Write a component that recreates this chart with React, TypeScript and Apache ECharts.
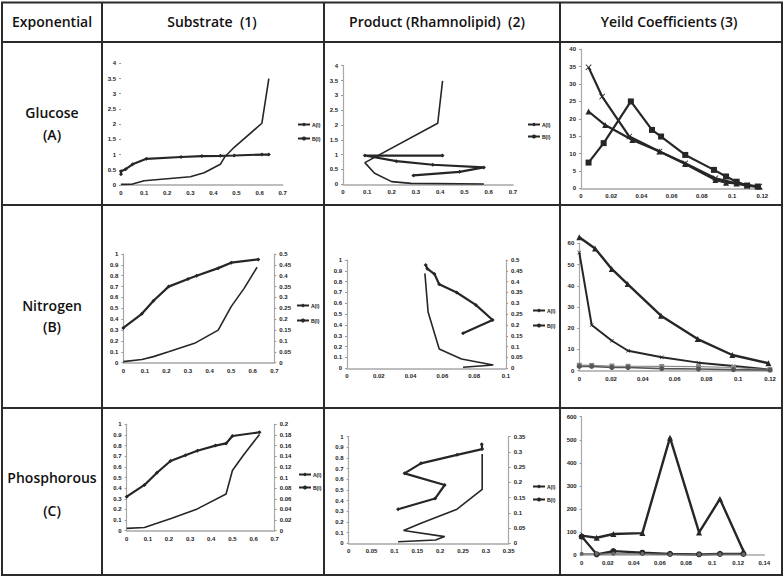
import React, { useEffect, useRef } from "react";
import * as echarts from "echarts";

// ---------- Data ----------
// Row A: Glucose
const glucoseSubstrateA = [[0, 0.35], [0, 0.45], [0.02, 0.52], [0.05, 0.68], [0.11, 0.86], [0.26, 0.92], [0.35, 0.95], [0.43, 0.96], [0.49, 0.97], [0.61, 1.0], [0.64, 1.0]];
const glucoseSubstrateB = [[0, 0.02], [0.05, 0.03], [0.1, 0.14], [0.3, 0.27], [0.36, 0.4], [0.43, 0.68], [0.45, 0.93], [0.49, 1.24], [0.61, 2.03], [0.64, 3.5]];
const glucoseProductA = [[0.41, 0.97], [0.09, 0.97], [0.22, 0.78], [0.37, 0.66], [0.58, 0.57], [0.48, 0.42], [0.29, 0.3]];
const glucoseProductB = [[0.41, 3.49], [0.39, 2.06], [0.09, 0.73], [0.13, 0.37], [0.2, 0.09], [0.28, 0.03], [0.58, 0.01]];
const glucoseYieldCross = [[0.005, 34.8], [0.014, 26.4], [0.032, 14.9], [0.052, 10.6], [0.069, 7.2], [0.089, 2.9], [0.103, 1.4], [0.11, 0.7], [0.118, 0.5]];
const glucoseYieldTri = [[0.005, 22.1], [0.016, 18.2], [0.034, 13.9], [0.052, 10.6], [0.069, 7.0], [0.089, 2.4], [0.096, 1.6], [0.103, 1.4], [0.118, 0.5]];
const glucoseYieldSq = [[0.005, 7.4], [0.015, 13], [0.033, 25], [0.047, 16.8], [0.053, 14.9], [0.069, 9.6], [0.088, 5.3], [0.096, 3.4], [0.103, 1.9], [0.11, 0.8], [0.117, 0.5]];

// Row B: Nitrogen
const nitrogenSubstrateA = [[0, 0.32], [0.086, 0.45], [0.14, 0.57], [0.21, 0.7], [0.3, 0.77], [0.34, 0.8], [0.44, 0.87], [0.5, 0.92], [0.626, 0.95]];
const nitrogenSubstrateB = [[0, 0.005], [0.086, 0.015], [0.14, 0.028], [0.21, 0.05], [0.33, 0.089], [0.44, 0.15], [0.5, 0.258], [0.56, 0.342], [0.62, 0.439]];
const nitrogenProductA = [[0.0495, 0.954], [0.0505, 0.92], [0.055, 0.87], [0.058, 0.775], [0.069, 0.7], [0.081, 0.585], [0.0916, 0.446], [0.073, 0.323]];
const nitrogenProductB = [[0.049, 0.438], [0.051, 0.26], [0.058, 0.089], [0.072, 0.043], [0.092, 0.015], [0.073, 0.005]];
const nitrogenYieldTri = [[0, 62.8], [0.0099, 57.6], [0.0204, 47.9], [0.0304, 40.8], [0.0514, 25.9], [0.0745, 14.9], [0.0963, 7.4], [0.119, 3.5]];
const nitrogenYieldCross = [[0, 55.7], [0.0078, 21.5], [0.0205, 14.1], [0.0307, 9.4], [0.0519, 6.3], [0.075, 3.8], [0.097, 2.2], [0.12, 0.5]];
const nitrogenYieldCircle = [[0, 2], [0.0078, 2], [0.0205, 1.5], [0.0307, 1.5], [0.0519, 1], [0.075, 0.8], [0.097, 0.5], [0.12, 0.3]];
const nitrogenYieldSq = [[0, 2.6], [0.0078, 2.5], [0.0205, 2.2], [0.0307, 2.1], [0.0519, 2.0], [0.075, 1.9], [0.097, 1.5], [0.12, 0.5]];

// Row C: Phosphorous
const phosSubstrateA = [[0, 0.32], [0.084, 0.43], [0.143, 0.545], [0.207, 0.655], [0.278, 0.71], [0.334, 0.752], [0.42, 0.8], [0.47, 0.82], [0.5, 0.89], [0.628, 0.925]];
const phosSubstrateB = [[0, 0.0044], [0.084, 0.006], [0.143, 0.0138], [0.21, 0.023], [0.334, 0.041], [0.47, 0.069], [0.5, 0.113], [0.55, 0.141], [0.628, 0.181]];
const phosProductA = [[0.108, 0.32], [0.189, 0.42], [0.21, 0.547], [0.122, 0.656], [0.158, 0.75], [0.237, 0.83], [0.292, 0.884], [0.291, 0.93]];
const phosProductB = [[0.292, 0.293], [0.292, 0.177], [0.237, 0.112], [0.158, 0.066], [0.12, 0.042], [0.21, 0.022], [0.19, 0.011], [0.108, 0.005]];
const phosYieldTri = [[0, 84], [0.0115, 75], [0.0243, 91], [0.0465, 95], [0.0677, 509], [0.09, 98], [0.106, 243], [0.124, 17]];
const phosYieldCircle = [[0, 80], [0.0115, 3], [0.0243, 17], [0.0465, 10], [0.0677, 5], [0.09, 3], [0.106, 5], [0.124, 5]];
const phosYieldLow = [[0, 5], [0.0115, 5], [0.0243, 5], [0.0465, 5], [0.0677, 3], [0.09, 2], [0.106, 3], [0.124, 3]];

// Texts
const headerLabels = ["Exponential", "Substrate  (1)", "Product (Rhamnolipid)  (2)", "Yeild Coefficients (3)"];
const rowLabels = [["Glucose", "(A)"], ["Nitrogen", "(B)"], ["Phosphorous", "(C)"]];
const legendNames = ["A(I)", "B(I)"];

// ---------- Styling helpers ----------
const DARK = "#262626";
const GRAYAXIS = "#a8a8a8";
const labelStyle = { fontSize: 6, fontWeight: "bold" as const, color: "#222", fontFamily: "Liberation Sans", margin: 5 };

function xAx(gridIndex: number, max: number, interval: number) {
  return {
    type: "value", gridIndex, min: 0, max, interval,
    axisLine: { show: true, lineStyle: { color: GRAYAXIS, width: 1.5 } },
    axisTick: { show: false },
    splitLine: { show: false },
    axisLabel: { ...labelStyle },
  };
}
function yAx(gridIndex: number, max: number, interval: number, position = "left", showLine = true) {
  return {
    type: "value", gridIndex, min: 0, max, interval, position,
    axisLine: { show: showLine, onZero: false, lineStyle: { color: GRAYAXIS, width: 1.2 } },
    axisTick: { show: true, length: 2, lineStyle: { color: "#999" } },
    splitLine: { show: false },
    axisLabel: { ...labelStyle },
  };
}
function ser(name: string, data: number[][], xi: number, yi: number, symbol: string, symbolSize: number, width: number, color = DARK) {
  return {
    type: "line", name, data, xAxisIndex: xi, yAxisIndex: yi,
    symbol, symbolSize, showSymbol: symbol !== "none", clip: false,
    lineStyle: { color, width },
    itemStyle: { color },
    emphasis: { disabled: true },
  };
}
function legendAt(left: number, top: number, gap: number) {
  return {
    data: legendNames, left, top, orient: "vertical", itemWidth: 12, itemHeight: 5, itemGap: gap,
    padding: 0, selectedMode: false,
    textStyle: { fontSize: 5, fontWeight: "bold", color: "#111", fontFamily: "Liberation Sans", padding: [0, 0, 0, -3] },
  };
}

const CROSS = "path://M0,1L1,0L5,4L9,0L10,1L6,5L10,9L9,10L5,6L1,10L0,9L4,5Z";

function buildOption() {
  const grid = [
    { left: 121, top: 63.3, width: 161.7, height: 121.7 },   // A1
    { left: 343, top: 65.7, width: 170, height: 118.6 },     // A2
    { left: 581, top: 49.3, width: 181.3, height: 139 },     // A3
    { left: 123.3, top: 254, width: 151, height: 108.7 },    // B1
    { left: 347, top: 260, width: 159, height: 108.3 },      // B2
    { left: 579.3, top: 243.3, width: 190.7, height: 127.4 },// B3
    { left: 126.7, top: 424.3, width: 148, height: 106.4 },  // C1
    { left: 348.7, top: 436.7, width: 160, height: 106.6 },  // C2
    { left: 581.7, top: 416.7, width: 182.6, height: 138.3 },// C3
  ];
  const xAxis = [
    xAx(0, 0.7, 0.1), xAx(1, 0.7, 0.1), xAx(2, 0.12, 0.02),
    xAx(3, 0.7, 0.1), xAx(4, 0.1, 0.02), xAx(5, 0.12, 0.02),
    xAx(6, 0.7, 0.1), xAx(7, 0.35, 0.05), xAx(8, 0.14, 0.02),
  ];
  const yAxis = [
    yAx(0, 4, 0.5, "left", false),   // 0 A1
    yAx(1, 4, 0.5),                  // 1 A2
    yAx(2, 40, 5),                   // 2 A3
    yAx(3, 1, 0.1),                  // 3 B1 left
    yAx(3, 0.5, 0.05, "right"),      // 4 B1 right
    yAx(4, 1, 0.1),                  // 5 B2 left
    yAx(4, 0.5, 0.05, "right"),      // 6 B2 right
    yAx(5, 60, 10),                  // 7 B3
    yAx(6, 1, 0.1),                  // 8 C1 left
    yAx(6, 0.2, 0.02, "right"),      // 9 C1 right
    yAx(7, 1, 0.1),                  // 10 C2 left
    yAx(7, 0.35, 0.05, "right"),     // 11 C2 right
    yAx(8, 600, 100),                // 12 C3
  ];
  const series = [
    ser("A(I)", glucoseSubstrateA, 0, 0, "diamond", 4, 2.2),
    ser("B(I)", glucoseSubstrateB, 0, 0, "none", 0, 1.6),
    ser("A(I)", glucoseProductA, 1, 1, "diamond", 4, 2.2),
    ser("B(I)", glucoseProductB, 1, 1, "none", 0, 1.6),
    ser("g-cross", glucoseYieldCross, 2, 2, CROSS, 6, 2.2),
    ser("g-tri", glucoseYieldTri, 2, 2, "triangle", 6, 2.2),
    ser("g-sq", glucoseYieldSq, 2, 2, "rect", 6, 2.2),

    ser("A(I)", nitrogenSubstrateA, 3, 3, "diamond", 4, 2.2),
    ser("B(I)", nitrogenSubstrateB, 3, 4, "none", 0, 1.6),
    ser("A(I)", nitrogenProductA, 4, 5, "diamond", 4, 2.2),
    ser("B(I)", nitrogenProductB, 4, 6, "none", 0, 1.6),
    ser("n-tri", nitrogenYieldTri, 5, 7, "triangle", 6, 2.4),
    ser("n-cross", nitrogenYieldCross, 5, 7, CROSS, 4, 2.0),
    ser("n-sq", nitrogenYieldSq, 5, 7, "rect", 5, 1.2, "#888"),
    ser("n-circ", nitrogenYieldCircle, 5, 7, "circle", 5, 1.6, "#555"),

    ser("A(I)", phosSubstrateA, 6, 8, "diamond", 4, 2.2),
    ser("B(I)", phosSubstrateB, 6, 9, "none", 0, 1.6),
    ser("A(I)", phosProductA, 7, 10, "diamond", 4, 2.2),
    ser("B(I)", phosProductB, 7, 11, "none", 0, 1.6),
    ser("p-tri", phosYieldTri, 8, 12, "triangle", 6, 2.4),
    ser("p-circ", phosYieldCircle, 8, 12, "circle", 6, 2.2),
    ser("p-low", phosYieldLow, 8, 12, "circle", 4, 1.4, "#666"),
  ];
  const legend = [
    legendAt(297, 122, 9),
    legendAt(527, 122, 7),
    legendAt(296, 303, 10),
    legendAt(532, 308, 10),
    legendAt(298, 472, 8),
    legendAt(532, 484, 8),
  ];

  const lineStyle = { stroke: "#2b2b2b", lineWidth: 2 };
  const hLines = [42, 205, 408];
  const vLines = [102, 324, 560];
  const graphic: any[] = [
    { type: "rect", shape: { x: 2, y: 2.5, width: 780, height: 572.5 }, style: { fill: "none", ...lineStyle }, silent: true },
  ];
  hLines.forEach((y) => graphic.push({ type: "line", shape: { x1: 2, y1: y, x2: 782, y2: y }, style: lineStyle, silent: true }));
  vLines.forEach((x) => graphic.push({ type: "line", shape: { x1: x, y1: 2.5, x2: x, y2: 575 }, style: lineStyle, silent: true }));

  const font = "600 14px 'Open Sans'";
  const headerX = [52, 212, 437, 669];
  headerLabels.forEach((t, i) =>
    graphic.push({ type: "text", x: headerX[i], y: 21, style: { text: t, font, fill: "#111", align: "center", verticalAlign: "middle" }, silent: true })
  );
  const rowY = [[112, 134], [305, 326], [477, 510]];
  rowLabels.forEach((pair, r) =>
    pair.forEach((t, k) =>
      graphic.push({ type: "text", x: 52, y: rowY[r][k], style: { text: t, font, fill: "#111", align: "center", verticalAlign: "middle" }, silent: true })
    )
  );

  return { animation: false, backgroundColor: "#fff", grid, xAxis, yAxis, series, legend, graphic };
}

export default function App() {
  const ref = useRef<HTMLDivElement>(null);
  useEffect(() => {
    if (!ref.current) return;
    const chart = echarts.init(ref.current, undefined, { renderer: "svg" });
    chart.setOption(buildOption() as any);
    return () => chart.dispose();
  }, []);
  return <div ref={ref} style={{ position: "fixed", left: 0, top: 0, width: 784, height: 578, background: "#fff" }} />;
}
